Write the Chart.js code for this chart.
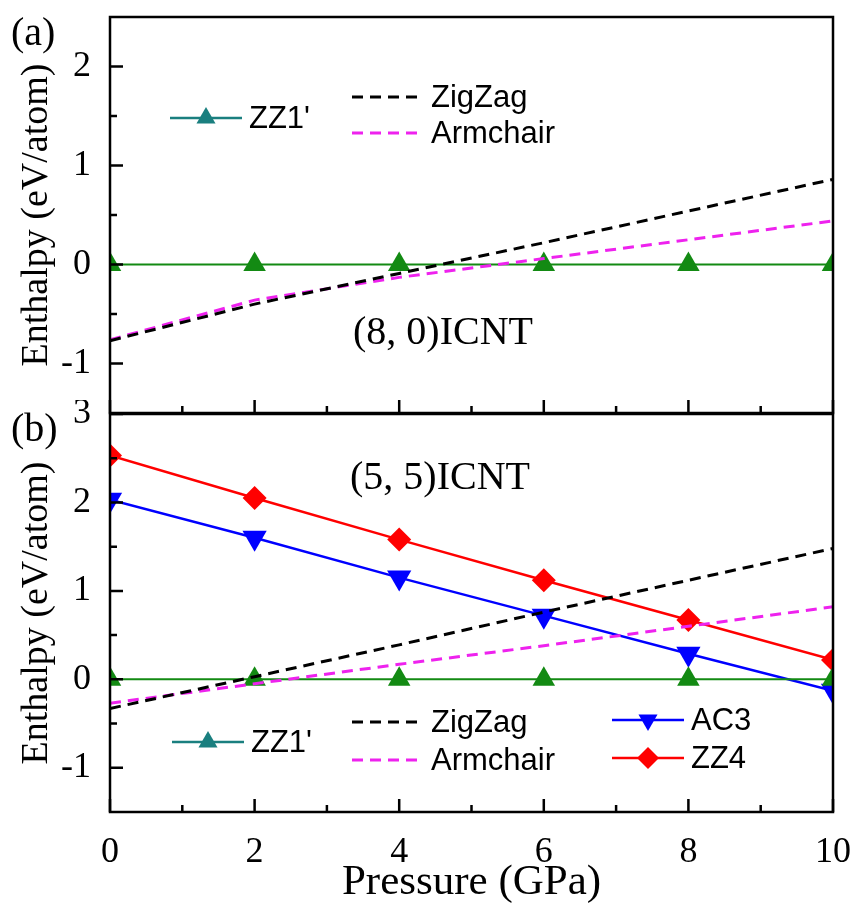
<!DOCTYPE html>
<html>
<head>
<meta charset="utf-8">
<script src="https://cdn.jsdelivr.net/npm/chart.js@4/dist/chart.umd.min.js"></script>
<style>
  html, body { margin: 0; padding: 0; background: #fff; }
  #wrap { position: relative; width: 859px; height: 907px; }
  #chartA { position: absolute; left: 0; top: 0; }
  #chartB { position: absolute; left: 0; top: 400px; }
</style>
</head>
<body>
<div id="wrap">
  <canvas id="chartA" width="859" height="426"></canvas>
  <canvas id="chartB" width="859" height="507"></canvas>
</div>
<script>
// pressure points (GPa)
const pressure = [0, 2, 4, 6, 8, 10];

// panel (a): (8,0) ICNT, enthalpy relative to ZZ1' (eV/atom)
const zz1A      = [0, 0, 0, 0, 0, 0];
const zigzagA   = [-0.77, -0.40, -0.09, 0.22, 0.54, 0.86];
const armchairA = [-0.76, -0.36, -0.13, 0.06, 0.25, 0.44];

// panel (b): (5,5) ICNT
const zz1B      = [0, 0, 0, 0, 0, 0];
const zigzagB   = [-0.33, 0.03, 0.39, 0.76, 1.12, 1.48];
const armchairB = [-0.27, -0.05, 0.17, 0.38, 0.60, 0.82];
const ac3B      = [2.03, 1.60, 1.15, 0.72, 0.29, -0.13];
const zz4B      = [2.53, 2.05, 1.58, 1.12, 0.67, 0.22];

// axis ticks
const xTicks  = [0, 2, 4, 6, 8, 10];
const xMinor  = [1, 3, 5, 7, 9];
const yTicksA = [-1, 0, 1, 2];
const yMinorA = [-0.5, 0.5, 1.5];
const yTicksB = [-1, 0, 1, 2, 3];
const yMinorB = [-0.5, 0.5, 1.5, 2.5];

const SERIF = "'Liberation Serif', 'Times New Roman', serif";
const SANS = "'Liberation Sans', Arial, sans-serif";

function pts(ys) {
    return pressure.map((x, i) => ({ x: x, y: ys[i] }));
}

function dashed(label, ys, color) {
    return {
        label: label, data: pts(ys), borderColor: color, borderWidth: 3,
        borderDash: [11, 7], pointRadius: 0, fill: false, tension: 0
    };
}

function marked(label, ys, color, style, rot, r, w) {
    return {
        label: label, data: pts(ys), borderColor: color, backgroundColor: color,
        borderWidth: w || 2.5, pointStyle: style, pointRotation: rot || 0,
        pointRadius: r, pointBorderWidth: 0, fill: false, tension: 0
    };
}

// draws frame, inward ticks, legend and panel labels
const decorPlugin = {
    id: 'decor',
    afterDatasetsDraw(chart, args, opts) {
        const { ctx, chartArea: a, scales } = chart;
        const xs = scales.x, ys = scales.y;
        ctx.save();
        ctx.strokeStyle = '#000';
        ctx.lineWidth = 2.5;
        ctx.beginPath();
        xTicks.forEach(v => { const p = xs.getPixelForValue(v); ctx.moveTo(p, a.bottom); ctx.lineTo(p, a.bottom - 13); });
        xMinor.forEach(v => { const p = xs.getPixelForValue(v); ctx.moveTo(p, a.bottom); ctx.lineTo(p, a.bottom - 7); });
        opts.yMajor.forEach(v => { const p = ys.getPixelForValue(v); ctx.moveTo(a.left, p); ctx.lineTo(a.left + 13, p); });
        opts.yMinor.forEach(v => { const p = ys.getPixelForValue(v); ctx.moveTo(a.left, p); ctx.lineTo(a.left + 7, p); });
        ctx.stroke();
        ctx.strokeRect(a.left, a.top, a.right - a.left, a.bottom - a.top);

        // legend entries
        ctx.textBaseline = 'middle';
        ctx.textAlign = 'left';
        ctx.font = '31px ' + SANS;
        opts.legend.forEach(it => {
            ctx.save();
            ctx.strokeStyle = it.color;
            ctx.lineWidth = it.dash ? 3 : 2.5;
            if (it.dash) ctx.setLineDash([11, 7]);
            ctx.beginPath();
            ctx.moveTo(it.x, it.y);
            ctx.lineTo(it.x + 72, it.y);
            ctx.stroke();
            ctx.restore();
            if (it.marker) {
                ctx.fillStyle = it.color;
                Chart.helpers.drawPoint(ctx, { pointStyle: it.marker, rotation: it.rot || 0, radius: 11, borderWidth: 0 }, it.x + 36, it.y);
            }
            ctx.fillStyle = '#000';
            ctx.fillText(it.text, it.x + 79, it.y + 1);
        });

        // panel labels
        ctx.fillStyle = '#000';
        ctx.font = '40px ' + SERIF;
        ctx.textAlign = 'center';
        ctx.fillText(opts.title.text, opts.title.x, opts.title.y);
        ctx.textAlign = 'left';
        ctx.fillText(opts.tag.text, opts.tag.x, opts.tag.y);
        ctx.restore();
    }
};

function options(yMin, yMax, yTicks, showX, padTop, decor) {
    return {
        responsive: false,
        animation: false,
        devicePixelRatio: 1,
        layout: { padding: { left: 0, right: 26, top: padTop, bottom: showX ? 0 : 2 } },
        plugins: { legend: { display: false }, tooltip: { enabled: false }, decor: decor },
        scales: {
            x: {
                type: 'linear', min: 0, max: 10, display: showX,
                afterBuildTicks: s => { s.ticks = xTicks.map(v => ({ value: v })); },
                afterFit: s => {
                    if (showX) s.height = 95;
                    s.paddingLeft = 0; s.paddingRight = 0;
                },
                grid: { display: false, drawTicks: false },
                border: { display: false },
                ticks: { padding: 19, color: '#000', font: { family: SERIF, size: 36 } },
                title: { display: true, text: 'Pressure (GPa)', color: '#000', padding: { top: 0, bottom: -2 },
                         font: { family: SERIF, size: 43 } }
            },
            y: {
                type: 'linear', min: yMin, max: yMax,
                afterBuildTicks: s => { s.ticks = yTicks.map(v => ({ value: v })); },
                afterFit: s => { s.width = 110; s.paddingTop = 0; s.paddingBottom = 0; },
                grid: { display: false, drawTicks: false },
                border: { display: false },
                ticks: { padding: 19, color: '#000', font: { family: SERIF, size: 36 } },
                title: { display: true, text: 'Enthalpy (eV/atom)', color: '#000', padding: { top: 14, bottom: 0 },
                         font: { family: SERIF, size: 38 } }
            }
        }
    };
}

const GREEN = '#138a13';
const TEAL = '#1a7f7f';

new Chart(document.getElementById('chartA'), {
    type: 'line',
    data: {
        datasets: [
            dashed('ZigZag', zigzagA, '#000000'),
            dashed('Armchair', armchairA, '#ee22ee'),
            marked("ZZ1'", zz1A, GREEN, 'triangle', 0, 13, 2)
        ]
    },
    options: options(-1.5, 2.5, yTicksA, false, 17, {
        yMajor: yTicksA, yMinor: yMinorA,
        legend: [
            { text: "ZZ1'", x: 170, y: 118, color: TEAL, marker: 'triangle' },
            { text: 'ZigZag', x: 352, y: 97, color: '#000', dash: true },
            { text: 'Armchair', x: 352, y: 133, color: '#ee22ee', dash: true }
        ],
        title: { text: '(8, 0)ICNT', x: 443, y: 333 },
        tag: { text: '(a)', x: 11, y: 34 }
    }),
    plugins: [decorPlugin]
});

new Chart(document.getElementById('chartB'), {
    type: 'line',
    data: {
        datasets: [
            dashed('ZigZag', zigzagB, '#000000'),
            dashed('Armchair', armchairB, '#ee22ee'),
            marked("ZZ1'", zz1B, GREEN, 'triangle', 0, 13, 2),
            marked('AC3', ac3B, '#0000ff', 'triangle', 180, 14),
            marked('ZZ4', zz4B, '#ff0000', 'rectRot', 0, 12)
        ]
    },
    options: options(-1.5, 3, yTicksB, true, 13, {
        yMajor: yTicksB, yMinor: yMinorB,
        legend: [
            { text: "ZZ1'", x: 172, y: 342, color: TEAL, marker: 'triangle' },
            { text: 'ZigZag', x: 352, y: 322, color: '#000', dash: true },
            { text: 'Armchair', x: 352, y: 360, color: '#ee22ee', dash: true },
            { text: 'AC3', x: 612, y: 320, color: '#0000ff', marker: 'triangle', rot: 180 },
            { text: 'ZZ4', x: 612, y: 358, color: '#ff0000', marker: 'rectRot' }
        ],
        title: { text: '(5, 5)ICNT', x: 440, y: 78 },
        tag: { text: '(b)', x: 11, y: 30 }
    }),
    plugins: [decorPlugin]
});
</script>
</body>
</html>
